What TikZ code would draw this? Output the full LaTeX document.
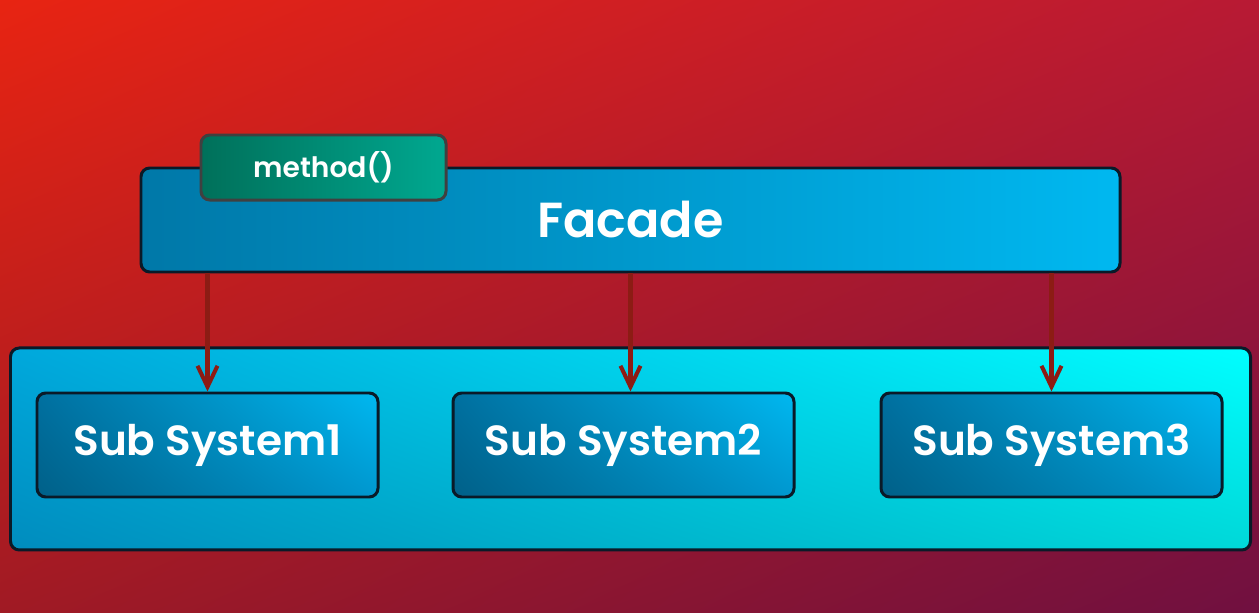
\documentclass[tikz,border=0pt]{standalone}
\usepackage{fontspec}
\setmainfont{Poppins}[BoldFont={Poppins SemiBold}]
\usepackage{tikz}
\usetikzlibrary{arrows.meta, positioning, calc, shadings}
\definecolor{colBgTL}  {RGB}{232,36,18}
\definecolor{colBgTR}  {RGB}{184,26,52}
\definecolor{colBgBL}  {RGB}{160,26,36}
\definecolor{colBgBR}  {RGB}{112,16,64}
\definecolor{colFacL}  {RGB}{0,120,168}
\definecolor{colFacR}  {RGB}{0,184,240}
\definecolor{colMetL}  {RGB}{0,112,90}
\definecolor{colMetR}  {RGB}{0,168,144}
\definecolor{colBoxUL} {RGB}{0,168,220}
\definecolor{colBoxUR} {RGB}{0,255,255}
\definecolor{colBoxLL} {RGB}{0,140,190}
\definecolor{colBoxLR} {RGB}{0,216,216}
\definecolor{colSubUL} {RGB}{0,112,160}
\definecolor{colSubUR} {RGB}{0,184,240}
\definecolor{colSubLL} {RGB}{0,96,136}
\definecolor{colSubLR} {RGB}{0,152,208}
\definecolor{colEdge}  {RGB}{10,26,40}
\definecolor{colArrow} {RGB}{140,28,20}
\tikzset{
  base/.style   = {draw=colEdge, line width=1.7pt, rounded corners=5pt,
                   text=white, font=\bfseries, align=center, inner sep=0pt},
  facade/.style = {base, left color=colFacL, right color=colFacR,
                   minimum width=19.58cm, minimum height=2.08cm,
                   font=\fontsize{28}{34}\selectfont\bfseries},
  meth/.style   = {base, draw=black!75, left color=colMetL, right color=colMetR,
                   minimum width=4.9cm, minimum height=1.3cm,
                   font=\fontsize{16}{19}\selectfont\bfseries},
  holder/.style = {base, upper left=colBoxUL, upper right=colBoxUR,
                   lower left=colBoxLL, lower right=colBoxLR,
                   minimum width=24.8cm, minimum height=4.04cm},
  sub/.style    = {base, upper left=colSubUL, upper right=colSubUR,
                   lower left=colSubLL, lower right=colSubLR,
                   minimum width=6.82cm, minimum height=2.08cm,
                   font=\fontsize{24}{29}\selectfont\bfseries},
  arr/.style    = {-{Straight Barb[length=4.2mm, width=4mm]},
                   line width=2.3pt, draw=colArrow},
}
\begin{document}
\begin{tikzpicture}

%% ── background ───────────────────────────────────────────────────────────────
\shade[upper left=colBgTL, upper right=colBgTR, lower left=colBgBL,
       lower right=colBgBR] (0,0) rectangle (25.18,12.24);
\useasboundingbox (0,0) rectangle (25.18,12.24);

%% ── Facade ───────────────────────────────────────────────────────────────────
\node[facade] (facade) at (12.61,7.84) {Facade};
\node[meth, anchor=south west] (method)
  at ([xshift=1.2cm, yshift=-0.7cm]facade.north west) {method()};

%% ── Sub systems ──────────────────────────────────────────────────────────────
\node[holder, below=1.46cm of facade] (subs) {};
\node[sub] (ss1) at (4.15,3.34)  {Sub System1};
\node[sub] (ss2) at (12.47,3.34) {Sub System2};
\node[sub] (ss3) at (21.03,3.34) {Sub System3};

%% ── arrows ───────────────────────────────────────────────────────────────────
\draw[arr] (ss1.north |- facade.south) -- (ss1.north);
\draw[arr] (facade.south) -- (facade.south |- ss2.north);
\draw[arr] (ss3.north |- facade.south) -- (ss3.north);

\end{tikzpicture}
\end{document}
